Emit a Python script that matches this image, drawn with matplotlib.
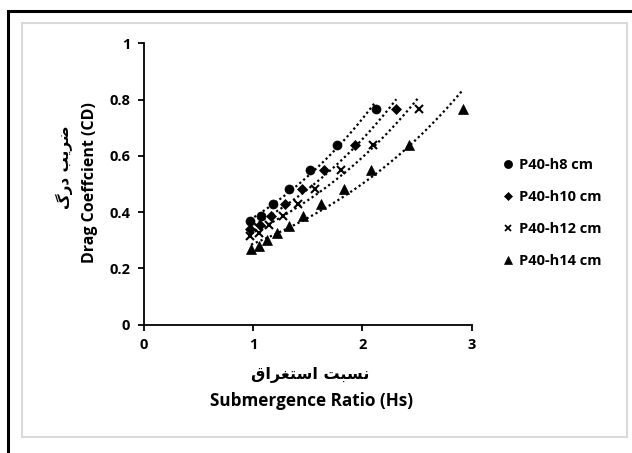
import numpy as np
import matplotlib
matplotlib.use("Agg")
import matplotlib.pyplot as plt
from matplotlib.lines import Line2D
from matplotlib.patches import Rectangle

plt.rcParams['font.family'] = ['Open Sans', 'DejaVu Sans']
plt.rcParams['font.weight'] = 'bold'

# data
labels = ["P40-h8 cm", "P40-h10 cm", "P40-h12 cm", "P40-h14 cm"]
markers = ["o", "D", "x", "^"]
msizes = [6.5, 4.8, 5.5, 6.8]

hs_h8 = [0.97, 1.07, 1.18, 1.33, 1.52, 1.77, 2.12]
cd_h8 = [0.367, 0.387, 0.429, 0.483, 0.550, 0.640, 0.768]

hs_h10 = [0.97, 1.06, 1.16, 1.29, 1.45, 1.65, 1.93, 2.31]
cd_h10 = [0.338, 0.353, 0.387, 0.429, 0.482, 0.550, 0.640, 0.768]

hs_h12 = [0.97, 1.05, 1.14, 1.27, 1.41, 1.57, 1.80, 2.10, 2.52]
cd_h12 = [0.314, 0.326, 0.353, 0.387, 0.427, 0.483, 0.550, 0.640, 0.768]

hs_h14 = [0.98, 1.05, 1.13, 1.22, 1.33, 1.46, 1.62, 1.83, 2.08, 2.43, 2.92]
cd_h14 = [0.269, 0.279, 0.300, 0.326, 0.350, 0.386, 0.428, 0.481, 0.550, 0.640, 0.768]

series = [(hs_h8, cd_h8), (hs_h10, cd_h10), (hs_h12, cd_h12), (hs_h14, cd_h14)]

# Persian labels, pre-shaped (presentation forms, visual order)
fa_y = "\uFB92\uFEAD\uFEA9 \uFE90\uFBFE\uFEAE\uFEBF"        # ضریب درگ
fa_x = "\uFED5\uFE8D\uFEAE\uFED0\uFE98\uFEB3\uFE8D \uFE96\uFE92\uFEB4\uFEE7"  # نسبت استغراق

fig = plt.figure(figsize=(6.32, 4.53), dpi=100)

# outer frames
fig.patches.append(Rectangle((8 / 632, -0.1), 1.1, (453 - 11) / 453 + 0.1,
                             transform=fig.transFigure, fill=False,
                             edgecolor="black", linewidth=2.2))
fig.patches.append(Rectangle((21.5 / 632, (453 - 437) / 453), (627 - 21.5) / 632,
                             (437 - 22.5) / 453, transform=fig.transFigure,
                             fill=False, edgecolor="#d9d9d9", linewidth=1.5))

ax = fig.add_axes([144 / 632, (453 - 324.5) / 453, (471.7 - 144) / 632, (324.5 - 43.3) / 453])

for (x, y), m, ms in zip(series, markers, msizes):
    x = np.array(x)
    y = np.array(y)
    # exponential trendline
    b, a = np.polyfit(x, np.log(y), 1)
    xx = np.linspace(x.min(), x.max(), 100)
    ax.plot(xx, np.exp(a) * np.exp(b * xx), color="black",
            linestyle=(0, (1, 1.3)), linewidth=1.6)
    ax.plot(x, y, linestyle="none", marker=m, color="black",
            markersize=ms, markeredgewidth=1.5 if m == "x" else 0.5)

ax.set_xlim(0, 3)
ax.set_ylim(0, 1)
ax.set_xticks([0, 1, 2, 3])
ax.set_yticks([0, 0.2, 0.4, 0.6, 0.8, 1])
ax.set_yticklabels(["0", "0.2", "0.4", "0.6", "0.8", "1"])
ax.spines["top"].set_visible(False)
ax.spines["right"].set_visible(False)
for s in ("left", "bottom"):
    ax.spines[s].set_linewidth(1.3)
ax.tick_params(direction="out", length=4, width=1.3, labelsize=10.5, pad=6)
for t in ax.get_xticklabels() + ax.get_yticklabels():
    t.set_fontweight("bold")

fig.text(64 / 632, 1 - 167 / 453, fa_y, rotation=90, ha="center", va="center",
         fontsize=11, fontweight="bold", family=["DejaVu Sans"])
fig.text(90 / 632, 1 - 183 / 453, "Drag Coeffcient (CD)", rotation=90,
         ha="center", va="center", fontsize=11.5, fontweight="bold")
fig.text(310 / 632, 1 - 375 / 453, fa_x, ha="center", va="center",
         fontsize=11.5, fontweight="bold", family=["DejaVu Sans"])
fig.text(311.7 / 632, 1 - 401 / 453, "Submergence Ratio (Hs)", ha="center",
         va="center", fontsize=12.3, fontweight="bold")

handles = [Line2D([], [], linestyle="none", marker=m, color="black",
                  markersize=ms * 0.9, markeredgewidth=1.3 if m == "x" else 0.5)
           for m, ms in zip(markers, msizes)]
fig.legend(handles, labels, loc="center left",
           bbox_to_anchor=(490 / 632, 1 - 213 / 453), frameon=False,
           handlelength=0.6, handletextpad=0.5, labelspacing=1.25,
           prop={"size": 10.5, "weight": "bold"})

fig.savefig("out.png", dpi=100)
